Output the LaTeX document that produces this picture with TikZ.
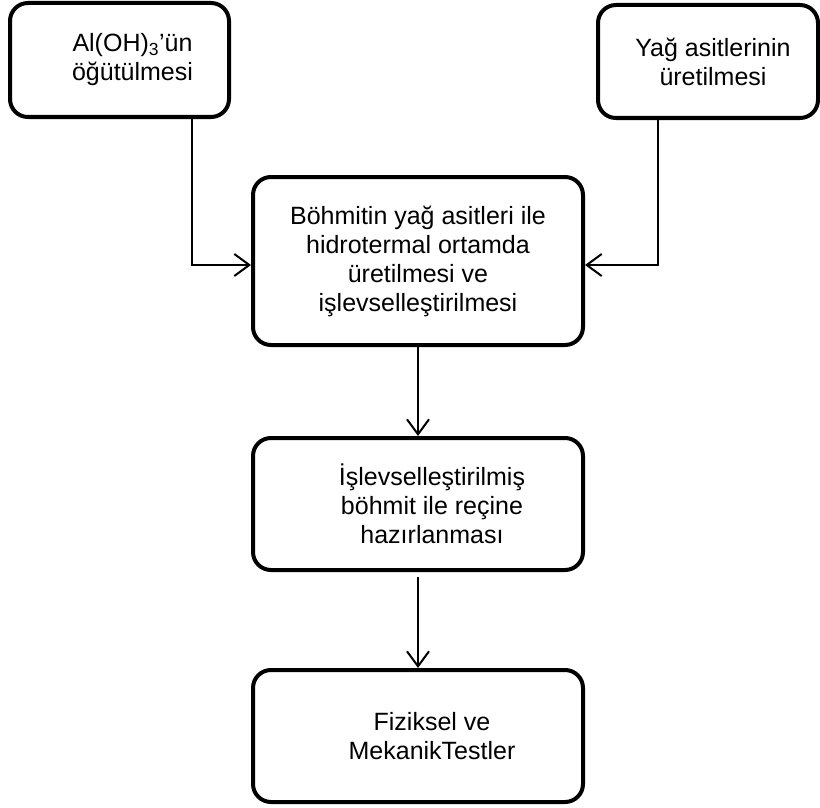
\documentclass[tikz,border=0pt]{standalone}
\usepackage{fontspec}
\setmainfont{Liberation Sans}
\usetikzlibrary{arrows.meta}

\begin{document}
\begin{tikzpicture}[x=1pt, y=-1pt]
    % --- Dimensions ---
    \def\BoxW{330}        % Width of the main column boxes
    \def\ColX{418}        % X-position of the main column
    \def\Radius{18pt}     % Corner radius

    % --- Styles ---
    \tikzset{
        step box/.style={
            draw=black,
            line width=4pt,
            rounded corners=\Radius,
            align=center,
            inner sep=0pt,
            font=\fontsize{25}{29}\selectfont
        },
        flow/.style={
            line width=2pt,
            -{Straight Barb[length=15pt, width=22pt, line width=2pt]}
        }
    }

    % Picture frame
    \useasboundingbox (0,0) rectangle (820,808);

    % =========================================================
    % 1. INPUT BOXES (top row)
    % =========================================================
    \node[step box, minimum width=219, minimum height=114] (grind)
        at (119.5,60) {\hspace*{26pt}Al(OH)\textsubscript{3}’ün\\
                       \hspace*{26pt}öğütülmesi};

    \node[step box, minimum width=220, minimum height=113] (acids)
        at (708,61.5) {\hspace*{10pt}Yağ asitlerinin\\
                       \hspace*{10pt}üretilmesi};

    % =========================================================
    % 2. MAIN COLUMN
    % =========================================================
    \node[step box, minimum width=\BoxW, minimum height=168] (boehmite)
        at (\ColX,261) {Böhmitin yağ asitleri ile\\
                        hidrotermal ortamda\\
                        üretilmesi ve\\
                        işlevselleştirilmesi};

    \node[step box, minimum width=\BoxW, minimum height=132] (resin)
        at (\ColX,504) {\hspace*{28pt}İşlevselleştirilmiş\\
                        \hspace*{28pt}böhmit ile reçine\\
                        \hspace*{28pt}hazırlanması};

    \node[step box, minimum width=\BoxW, minimum height=132] (tests)
        at (\ColX,736) {\hspace*{28pt}Fiziksel ve\\
                        \hspace*{28pt}MekanikTestler};

    % =========================================================
    % 3. CONNECTORS
    % =========================================================
    \draw[flow] ([xshift=72.5pt]grind.south) |- ([yshift=-4pt]boehmite.west);
    \draw[flow] ([xshift=-50pt]acids.south) |- ([yshift=-4pt]boehmite.east);

    \draw[flow] (boehmite.south) -- (resin.north);
    \draw[flow] ([yshift=-5pt]resin.south) -- (tests.north);

\end{tikzpicture}
\end{document}
